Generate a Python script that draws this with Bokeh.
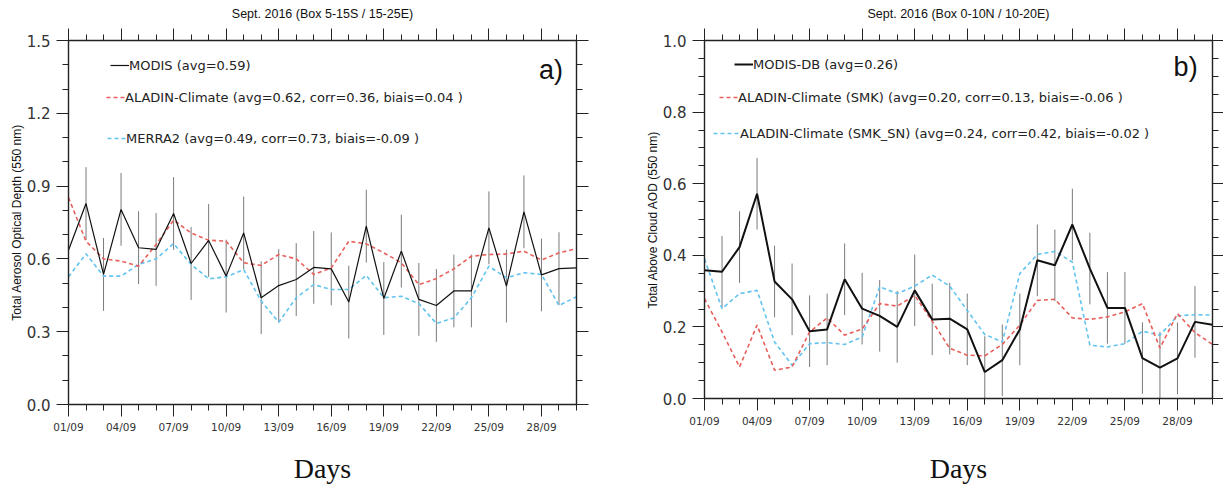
from bokeh.plotting import figure
from bokeh.models import (FixedTicker, LinearAxis, Range1d, Legend, LegendItem, Label,
                          ColumnDataSource, PrintfTickFormatter)
from bokeh.layouts import row
from bokeh.embed import file_html
from bokeh.resources import INLINE

# ---------------- data ----------------
days = [1, 2, 3, 4, 5, 6, 7, 8, 9, 10, 11, 12, 13, 14, 15,
        16, 17, 18, 19, 20, 21, 22, 23, 24, 25, 26, 27, 28, 29, 30]
label_days = [1, 4, 7, 10, 13, 16, 19, 22, 25, 28]
day_labels = ["01/09", "04/09", "07/09", "10/09", "13/09", "16/09", "19/09", "22/09", "25/09", "28/09"]

# panel a) Box 5-15S / 15-25E
modis_a = [0.636, 0.828, 0.536, 0.804, 0.646, 0.639, 0.787, 0.581, 0.676, 0.529,
           0.707, 0.440, 0.490, 0.515, 0.565, 0.559, 0.422, 0.735, 0.437, 0.632,
           0.433, 0.408, 0.468, 0.468, 0.728, 0.488, 0.794, 0.534, 0.560, 0.563]
modis_a_err = [0.15, 0.15, 0.15, 0.15, 0.15, 0.15, 0.15, 0.15, 0.15, 0.15,
               0.15, 0.15, 0.15, 0.15, 0.15, 0.15, 0.15, 0.15, 0.15, 0.15,
               0.15, 0.15, 0.15, 0.15, 0.15, 0.15, 0.15, 0.15, 0.15, 0.15]
aladin_a = [0.853, 0.673, 0.600, 0.591, 0.570, 0.659, 0.760, 0.707, 0.677, 0.673,
            0.584, 0.573, 0.618, 0.600, 0.536, 0.563, 0.673, 0.662, 0.625, 0.584,
            0.494, 0.519, 0.559, 0.611, 0.618, 0.620, 0.632, 0.595, 0.625, 0.642]
merra_a = [0.526, 0.621, 0.529, 0.529, 0.577, 0.600, 0.663, 0.577, 0.518, 0.526,
           0.556, 0.426, 0.339, 0.440, 0.494, 0.474, 0.474, 0.532, 0.440, 0.446,
           0.416, 0.334, 0.357, 0.440, 0.570, 0.522, 0.543, 0.536, 0.408, 0.444]

# panel b) Box 0-10N / 10-20E
modis_b = [0.358, 0.354, 0.423, 0.572, 0.327, 0.277, 0.188, 0.193, 0.333, 0.251,
           0.231, 0.200, 0.302, 0.221, 0.223, 0.193, 0.074, 0.107, 0.193, 0.386,
           0.372, 0.486, 0.363, 0.253, 0.253, 0.113, 0.086, 0.112, 0.214, 0.206]
modis_b_err = [0.10, 0.10, 0.10, 0.10, 0.10, 0.10, 0.10, 0.10, 0.10, 0.10,
               0.10, 0.10, 0.10, 0.10, 0.10, 0.10, 0.10, 0.10, 0.10, 0.10,
               0.10, 0.10, 0.10, 0.10, 0.10, 0.10, 0.10, 0.10, 0.10, 0.10]
smk_b = [0.279, 0.186, 0.088, 0.205, 0.079, 0.088, 0.186, 0.225, 0.177, 0.194,
         0.265, 0.258, 0.288, 0.216, 0.140, 0.121, 0.119, 0.151, 0.205, 0.274,
         0.277, 0.225, 0.221, 0.228, 0.242, 0.265, 0.141, 0.237, 0.184, 0.151]
smksn_b = [0.390, 0.251, 0.293, 0.302, 0.158, 0.093, 0.153, 0.156, 0.151, 0.172,
           0.312, 0.293, 0.314, 0.345, 0.314, 0.246, 0.179, 0.158, 0.349, 0.402,
           0.411, 0.381, 0.149, 0.144, 0.153, 0.188, 0.177, 0.231, 0.234, 0.233]

yticks_a = [0.0, 0.3, 0.6, 0.9, 1.2, 1.5]
yminor_a = [0.0, 0.1, 0.2, 0.3, 0.4, 0.5, 0.6, 0.7, 0.8, 0.9, 1.0, 1.1, 1.2, 1.3, 1.4, 1.5]
yticks_b = [0.0, 0.2, 0.4, 0.6, 0.8, 1.0]
yminor_b = [0.0, 0.05, 0.1, 0.15, 0.2, 0.25, 0.3, 0.35, 0.4, 0.45, 0.5, 0.55, 0.6,
            0.65, 0.7, 0.75, 0.8, 0.85, 0.9, 0.95, 1.0]

title_a = "Sept. 2016 (Box 5-15S / 15-25E)"
title_b = "Sept. 2016 (Box 0-10N / 10-20E)"
ylabel_a = "Total Aerosol Optical Depth (550 nm)"
ylabel_b = "Total Above Cloud AOD (550 nm)"
legend_a = ["MODIS (avg=0.59)",
            "ALADIN-Climate (avg=0.62, corr=0.36, biais=0.04 )",
            "MERRA2 (avg=0.49, corr=0.73, biais=-0.09 )"]
legend_b = ["MODIS-DB (avg=0.26)",
            "ALADIN-Climate (SMK) (avg=0.20, corr=0.13, biais=-0.06 )",
            "ALADIN-Climate (SMK_SN) (avg=0.24, corr=0.42, biais=-0.02 )"]

RED = "#e8605c"
BLUE = "#62c3ef"
AX = "#222222"


def style_axis(ax, major_font="15px", tick_out=12):
    ax.axis_line_color = AX
    ax.axis_line_width = 1.4
    ax.major_tick_line_color = AX
    ax.minor_tick_line_color = AX
    ax.major_tick_out = tick_out
    ax.major_tick_in = 0
    ax.minor_tick_out = 6
    ax.minor_tick_in = 0
    ax.major_label_text_font = "DejaVu Sans"
    ax.major_label_text_font_size = major_font
    ax.major_label_text_color = "#333333"


def make_panel(ymax, yt, ym, title, ylabel, obs, err, m1, m2, leg, leg_pos, leg_gw,
               tag, tag_xy, black_w, H, borders, right_tick, days_standoff):
    L, R, T, B = borders
    p = figure(frame_width=508, frame_height=H,
               x_range=Range1d(1, 30), y_range=Range1d(0, ymax),
               output_backend="svg", toolbar_location=None,
               min_border_left=L, min_border_right=R,
               min_border_top=T, min_border_bottom=B)
    p.xgrid.visible = False
    p.ygrid.visible = False
    p.outline_line_color = None
    p.background_fill_color = "white"

    xt = FixedTicker(ticks=label_days, minor_ticks=days)
    ytk = FixedTicker(ticks=yt, minor_ticks=ym)

    xa = p.xaxis[0]
    xa.ticker = xt
    style_axis(xa, "10.5px")
    xa.major_label_overrides = {d: s for d, s in zip(label_days, day_labels)}
    xa.major_label_standoff = 4
    xa.axis_label = "Days"
    xa.axis_label_text_font = "Liberation Serif"
    xa.axis_label_text_font_size = "28px"
    xa.axis_label_text_font_style = "normal"
    xa.axis_label_text_color = "#111111"
    xa.axis_label_standoff = days_standoff

    ya = p.yaxis[0]
    ya.ticker = ytk
    style_axis(ya, "15px")
    ya.formatter = PrintfTickFormatter(format="%.1f")
    ya.major_label_standoff = 6
    ya.axis_label = ylabel
    ya.axis_label_text_font = "Liberation Sans"
    ya.axis_label_text_font_size = "12px"
    ya.axis_label_text_font_style = "normal"
    ya.axis_label_text_color = "#111111"
    ya.axis_label_standoff = 0

    top = LinearAxis(ticker=xt)
    style_axis(top, "1px")
    top.major_label_text_color = None
    top.major_label_standoff = 0
    top.axis_label = title
    top.axis_label_text_font = "Liberation Sans"
    top.axis_label_text_font_size = "12.5px"
    top.axis_label_text_font_style = "normal"
    top.axis_label_text_color = "#111111"
    top.axis_label_standoff = 8
    p.add_layout(top, "above")

    right = LinearAxis(ticker=ytk)
    style_axis(right, "1px", right_tick)
    right.major_label_text_color = None
    right.major_label_standoff = 0
    p.add_layout(right, "right")

    lo = [v - e for v, e in zip(obs, err)]
    hi = [v + e for v, e in zip(obs, err)]
    src = ColumnDataSource(dict(day=days, obs=obs, lo=lo, hi=hi, m1=m1, m2=m2))

    p.segment(x0="day", y0="lo", x1="day", y1="hi", source=src,
              line_color="#7a7a7a", line_width=1)
    r2 = p.line("day", "m2", source=src, line_color=BLUE, line_width=1.6, line_dash="4 3")
    r1 = p.line("day", "m1", source=src, line_color=RED, line_width=1.6, line_dash="4 3")
    r0 = p.line("day", "obs", source=src, line_color="#111111", line_width=black_w)

    for rend, text, (lx, ld), gw in zip([r0, r1, r2], leg, leg_pos, leg_gw):
        lg = Legend(items=[LegendItem(label=text, renderers=[rend])],
                    location=(lx, H - ld - 10),
                    glyph_width=gw, glyph_height=20, label_height=20,
                    label_standoff=0, padding=0, margin=0, spacing=0,
                    border_line_color=None, background_fill_alpha=0,
                    label_text_font="DejaVu Sans", label_text_font_size="13px",
                    label_text_color="#222222")
        p.add_layout(lg)

    p.add_layout(Label(x=tag_xy[0], y=tag_xy[1], text=tag, text_font="Liberation Sans",
                       text_font_size="27px", text_baseline="middle",
                       text_color="#111111"))
    return p


p1 = make_panel(1.5, yticks_a, yminor_a, title_a, ylabel_a, modis_a, modis_a_err,
                aladin_a, merra_a, legend_a,
                [(42, 25), (38, 57), (39, 98)], [19, 19, 19],
                "a)", (27.86, 1.38), 1.2, 364, (68, 40, 39, 80), 12, 17)
p2 = make_panel(1.0, yticks_b, yminor_b, title_b, ylabel_b, modis_b, modis_b_err,
                smk_b, smksn_b, legend_b,
                [(30, 24), (15, 57), (9, 93)], [19, 19, 27],
                "b)", (27.78, 0.927), 2.0, 358, (88, 11, 40, 85), 11, 23)

layout = row(p1, p2)
open("out.html", "w").write(file_html(layout, INLINE))
